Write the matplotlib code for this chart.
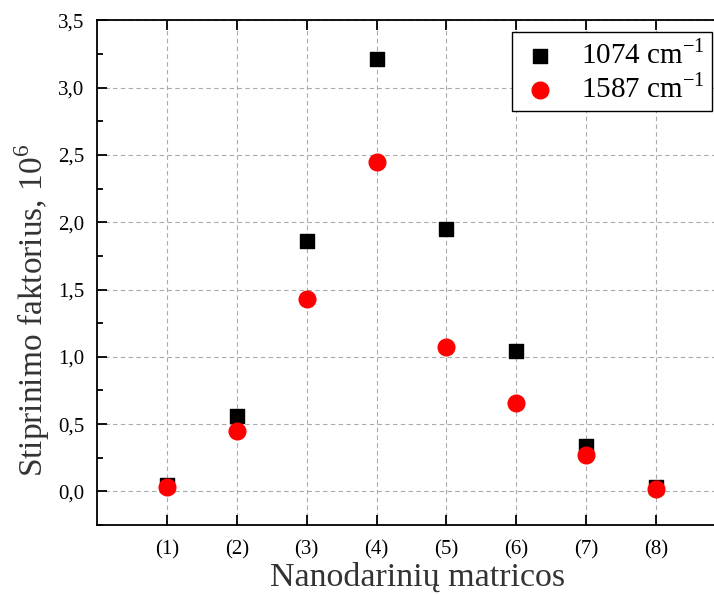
import numpy as np
import matplotlib
matplotlib.use('Agg')
import matplotlib.pyplot as plt
from matplotlib.ticker import MultipleLocator, FuncFormatter

plt.rcParams['font.family'] = ['Liberation Serif', 'DejaVu Serif']
plt.rcParams['mathtext.fontset'] = 'custom'
plt.rcParams['mathtext.rm'] = 'Liberation Serif'

labels = ['(1)', '(2)', '(3)', '(4)', '(5)', '(6)', '(7)', '(8)']
ef_1074 = [0.05, 0.56, 1.86, 3.21, 1.95, 1.04, 0.34, 0.03]
ef_1587 = [0.03, 0.45, 1.43, 2.45, 1.07, 0.66, 0.27, 0.015]
x = np.arange(1, len(labels) + 1)

fig = plt.figure(figsize=(7.14, 5.95), dpi=100)
ax = fig.add_axes([0.1359, 0.1176, 0.881, 0.848])

ax.grid(True, color='#aaaaaa', linestyle=(0, (4, 3)), linewidth=0.8)
ax.set_axisbelow(True)
ax.scatter(x, ef_1074, marker='s', s=10**2, color='black', label=r'1074 cm$^{\mathregular{-1}}$', zorder=3)
ax.scatter(x, ef_1587, marker='o', s=12**2, color='red', label=r'1587 cm$^{\mathregular{-1}}$', zorder=4)

ax.set_xlim(0, 9)
ax.set_ylim(-0.25, 3.5)
ax.set_xticks(x)
ax.set_xticklabels(labels)
ax.yaxis.set_major_locator(MultipleLocator(0.5))
ax.yaxis.set_minor_locator(MultipleLocator(0.25))
ax.yaxis.set_major_formatter(FuncFormatter(lambda v, p: ('%.1f' % v).replace('.', ',')))
ax.tick_params(axis='both', which='major', direction='in', length=7, width=1.3, labelsize=15, top=True, right=True)
ax.tick_params(axis='x', which='major', pad=11)
ax.tick_params(axis='y', which='major', pad=9)
ax.tick_params(axis='y', which='minor', direction='in', length=4, width=1.3, right=True)
for s in ax.spines.values():
    s.set_linewidth(1.3)

ax.set_xlabel('Nanodarinių matricos', fontsize=24.5, color='#333333')
ax.xaxis.set_label_coords(0.509, -0.073)
ax.set_ylabel(r'Stiprinimo faktorius, 10$^{\mathregular{6}}$', fontsize=24, color='#333333')
ax.yaxis.set_label_coords(-0.072, 0.426)

leg = ax.legend(loc='upper right', bbox_to_anchor=(712 / 714, 1 - 32 / 595), bbox_transform=fig.transFigure,
                fontsize=21, frameon=True, fancybox=False, edgecolor='black', framealpha=1,
                handlelength=1.4, handletextpad=0.7, borderpad=0.25, labelspacing=0.15, borderaxespad=0,
                scatterpoints=1)
leg.get_frame().set_linewidth(1.0)

fig.savefig('out.png', dpi=100)
